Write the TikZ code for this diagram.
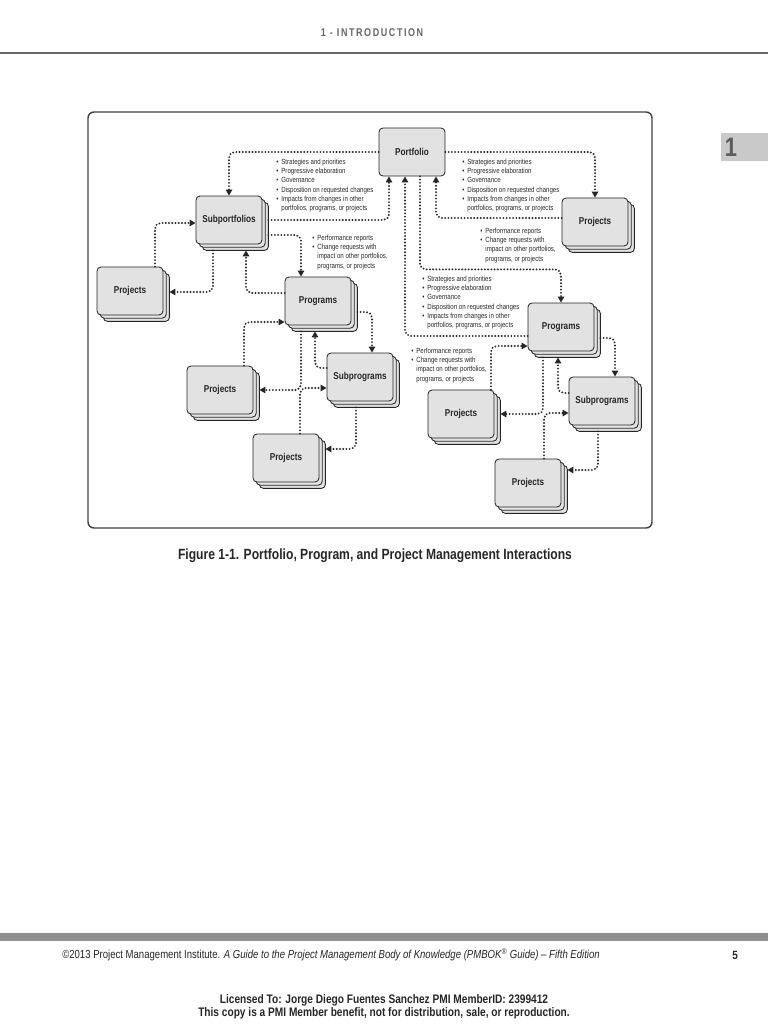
\documentclass[tikz,border=0pt]{standalone}
\usepackage{fontspec}
\setmainfont{Liberation Sans}[FakeStretch=0.82]
\newfontfamily\headfont{Liberation Sans}[FakeStretch=0.8,LetterSpace=14]
\usetikzlibrary{arrows.meta,positioning,calc,shadows}
\definecolor{Ink}{HTML}{262626}
\definecolor{Pale}{HTML}{E2E2E2}
\definecolor{Frame}{HTML}{404040}
\definecolor{Muted}{HTML}{666666}
\definecolor{Bar}{HTML}{8F8F8F}
\definecolor{Tab}{HTML}{C9C9C9}
\newcommand{\itm}{\makebox[1.3ex][l]{\textbullet}}
\newcommand{\cnt}{\hspace*{1.3ex}}
\tikzset{unitbox/.style={draw=Ink,fill=Pale,rounded corners=1mm,line width=0.6pt,
    minimum width=16.5mm,minimum height=12mm,inner sep=0pt,
    font=\bfseries\fontsize{7.1}{8}\selectfont,text=Ink},
  stackbox/.style={unitbox,copy shadow={shadow xshift=1.6mm,shadow yshift=-1.6mm},
    copy shadow={shadow xshift=0.8mm,shadow yshift=-0.8mm}},
  flowline/.style={-{Triangle[length=4.3pt,width=4.6pt]},draw=Ink,line width=1.5pt,
    dash pattern=on 0pt off 2.3pt,line cap=round,rounded corners=4pt},
  note/.style={anchor=north west,inner sep=0pt,align=left,text=Ink,
    font=\fontsize{5.3}{6.6}\selectfont}}

\begin{document}
\begin{tikzpicture}[x=0.25mm,y=-0.25mm]
  \useasboundingbox (0,0) rectangle (768,1024);
  % page furniture
  \node[font=\headfont\bfseries\fontsize{8}{9}\selectfont,text=Muted] (head) at (372,33) {1 - INTRODUCTION};
  \draw[draw=Muted,line width=1pt] (0,53) -- (768,53);
  \fill[Tab] (721,133) rectangle (768,161);
  \node[font=\bfseries\fontsize{19}{20}\selectfont,text=Ink!75] (tab) at (731,147) {1};
  \draw[draw=Frame,line width=1pt,rounded corners=1.5mm] (88,112) rectangle (652,528);
  % boxes
  \node[unitbox] (pf) at (412,152) {Portfolio};
  \node[stackbox] (subpf) at (229,220) {Subportfolios};
  \node[stackbox] (prjTR) at (595,222) {Projects};
  \node[stackbox] (prjL) at (130,291) {Projects};
  \node[stackbox] (progL) at (318,301) {Programs};
  \node[stackbox] (prjML) at (220,390) {Projects};
  \node[stackbox] (subprL) at (360,377) {Subprograms};
  \node[stackbox] (prjBL) at (286,458) {Projects};
  \node[stackbox] (progR) at (561,327) {Programs};
  \node[stackbox] (subprR) at (602,401) {Subprograms};
  \node[stackbox] (prjRM) at (461,414) {Projects};
  \node[stackbox] (prjRB) at (528,483) {Projects};
  % portfolio links
  \draw[flowline] (pf.west) -| (subpf.north);
  \draw[flowline] ($(subpf.east)+(6,0)$) -| ($(pf.south)+(-23,0)$);
  \draw[flowline] (pf.east) -| (prjTR.north);
  \draw[flowline] ($(prjTR.west)+(0,-4)$) -| ($(pf.south)+(24,0)$);
  \draw[flowline] ($(pf.south)+(8,0)$) -- ++(0,93) -| (progR.north);
  \draw[flowline] ($(progR.west)+(0,9)$) -| ($(pf.south)+(-7,0)$);
  % left group
  \draw[flowline] ($(subpf.east)+(6,15)$) -| ($(progL.north)+(-17,0)$);
  \draw[flowline] ($(progL.west)+(0,-8)$) -| ($(subpf.south)+(17,6)$);
  \draw[flowline] ($(subpf.south)+(-16,6)$) |- ($(prjL.east)+(6,1)$);
  \draw[flowline] ($(prjL.north)+(25,0)$) |- ($(subpf.west)+(0,3)$);
  \draw[flowline] ($(progL.east)+(6,11)$) -| ($(subprL.north)+(12,0)$);
  \draw[flowline] ($(subprL.west)+(0,-9)$) -| ($(progL.south)+(-3,6)$);
  \draw[flowline] ($(progL.south)+(-17,6)$) |- ($(prjML.east)+(6,0)$);
  \draw[flowline] ($(prjML.north)+(24,0)$) |- ($(progL.west)+(0,21)$);
  \draw[flowline] ($(subprL.south)+(-4,6)$) |- ($(prjBL.east)+(6,-9)$);
  \draw[flowline] ($(prjBL.north)+(14,0)$) |- ($(subprL.west)+(0,11)$);
  % right group
  \draw[flowline] ($(progR.east)+(6,11)$) -| ($(subprR.north)+(13,0)$);
  \draw[flowline] ($(subprR.west)+(0,-8)$) -| ($(progR.south)+(-3,6)$);
  \draw[flowline] ($(progR.south)+(-18,6)$) |- ($(prjRM.east)+(6,0)$);
  \draw[flowline] ($(prjRM.north)+(30,0)$) |- ($(progR.west)+(0,19)$);
  \draw[flowline] ($(subprR.south)+(-4,6)$) |- ($(prjRB.east)+(6,-13)$);
  \draw[flowline] ($(prjRB.north)+(16,0)$) |- ($(subprR.west)+(0,12)$);
  % notes
  \node[note] (downA) at (276,158.5) {\itm Strategies and priorities\\\itm Progressive elaboration\\\itm Governance\\\itm Disposition on requested changes\\\itm Impacts from changes in other\\\cnt portfolios, programs, or projects};
  \node[note] (downB) at (462,158.5) {\itm Strategies and priorities\\\itm Progressive elaboration\\\itm Governance\\\itm Disposition on requested changes\\\itm Impacts from changes in other\\\cnt portfolios, programs, or projects};
  \node[note] (downC) at (422,275.5) {\itm Strategies and priorities\\\itm Progressive elaboration\\\itm Governance\\\itm Disposition on requested changes\\\itm Impacts from changes in other\\\cnt portfolios, programs, or projects};
  \node[note] (upA) at (480,227.5) {\itm Performance reports\\\itm Change requests with\\\cnt impact on other portfolios,\\\cnt programs, or projects};
  \node[note] (upB) at (312,234.5) {\itm Performance reports\\\itm Change requests with\\\cnt impact on other portfolios,\\\cnt programs, or projects};
  \node[note] (upC) at (411,347.5) {\itm Performance reports\\\itm Change requests with\\\cnt impact on other portfolios,\\\cnt programs, or projects};
  % caption and footer
  \node[font=\bfseries\fontsize{10.5}{12}\selectfont,text=Ink] (cap) at (375,556) {Figure 1-1. Portfolio, Program, and Project Management Interactions};
  \fill[Bar] (0,933) rectangle (768,941);
  \node[anchor=west,inner sep=0pt,font=\fontsize{8.3}{9}\selectfont,text=Ink] (cred) at (62,955) {©2013 Project Management Institute. \textit{A Guide to the Project Management Body of Knowledge (PMBOK\textsuperscript{®} Guide) – Fifth Edition}};
  \node[font=\bfseries\fontsize{8.5}{9}\selectfont,text=Ink] (pageno) at (735,955) {5};
  \node[align=center,font=\bfseries\fontsize{8.8}{6.4}\selectfont,text=Ink] (lic) at (384,1007) {Licensed To: Jorge Diego Fuentes Sanchez PMI MemberID: 2399412\\This copy is a PMI Member benefit, not for distribution, sale, or reproduction.};
\end{tikzpicture}
\end{document}
